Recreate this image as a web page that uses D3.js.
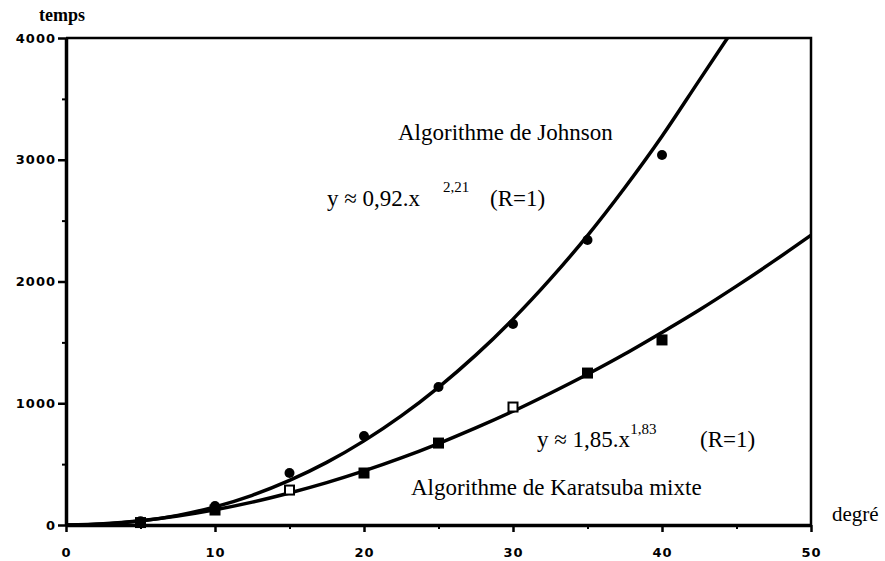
<!DOCTYPE html>
<html lang="fr">
  <head>
    <meta charset="UTF-8" />
    <title>Johnson vs Karatsuba</title>
    <script src="https://d3js.org/d3.v7.min.js"></script>
    <style>
      body {
        margin: 0;
        background: white;
      }
      svg {
        display: block;
      }
      .tick text {
        font-family: "DejaVu Sans", sans-serif;
        font-weight: bold;
        font-size: 13px;
        letter-spacing: 1px;
        fill: black;
      }
      .note {
        font-family: "Liberation Serif", "Times New Roman", serif;
        font-size: 23px;
        fill: black;
      }
    </style>
  </head>
  <body>
    <script>
      // measured points (degree, time)
      const degrees = [5, 10, 15, 20, 25, 30, 35, 40];
      const johnsonPts = [30, 156, 427, 731, 1133, 1651, 2341, 3039];
      const karatsubaPts = [20, 123, 287, 427, 673, 969, 1248, 1520];
      const karatsubaOpen = [false, false, true, false, false, true, false, false];

      // fitted curves
      const curveXJohnson = [0, 2.5, 5, 7.5, 10, 12.5, 15, 17.5, 20, 22.5, 25, 27.5, 30, 32.5, 35, 37.5, 40, 42.5, 44.4];
      const curveYJohnson = [0, 7, 32, 79, 149, 244, 366, 514, 691, 896, 1131, 1395, 1691, 2019, 2377, 2770, 3193, 3652, 4000];
      const curveXKaratsuba = [0, 2.5, 5, 7.5, 10, 12.5, 15, 17.5, 20, 22.5, 25, 27.5, 30, 32.5, 35, 37.5, 40, 42.5, 45, 47.5, 50];
      const curveYKaratsuba = [0, 10, 35, 74, 125, 188, 263, 348, 444, 551, 669, 797, 934, 1082, 1238, 1404, 1582, 1766, 1962, 2167, 2380];

      const xMajor = [0, 10, 20, 30, 40, 50];
      const xMinor = [5, 15, 25, 35, 45];
      const yMajor = [0, 1000, 2000, 3000, 4000];
      const yMinor = [500, 1500, 2500, 3500];

      const width = 885, height = 561;
      const svg = d3.select("body").append("svg")
        .attr("width", width)
        .attr("height", height);

      const x = d3.scaleLinear().domain([0, 50]).range([66, 811]);
      const y = d3.scaleLinear().domain([0, 4000]).range([525, 38]);

      // frame (top and right)
      svg.append("path")
        .attr("d", `M${x(0)},${y(4000)}H${x(50)}V${y(0)}`)
        .attr("fill", "none")
        .attr("stroke", "black")
        .attr("stroke-width", 2.5);

      // minor ticks
      svg.append("g")
        .attr("transform", `translate(0,${y(0)})`)
        .call(d3.axisBottom(x).tickValues(xMinor).tickSize(4).tickFormat(""))
        .call(g => g.select(".domain").remove())
        .call(g => g.selectAll("line").attr("stroke-width", 2));
      svg.append("g")
        .attr("transform", `translate(${x(0)},0)`)
        .call(d3.axisLeft(y).tickValues(yMinor).tickSize(4).tickFormat(""))
        .call(g => g.select(".domain").remove())
        .call(g => g.selectAll("line").attr("stroke-width", 2));

      // major axes
      const xAxis = svg.append("g")
        .attr("transform", `translate(0,${y(0)})`)
        .call(d3.axisBottom(x).tickValues(xMajor).tickFormat(d3.format("d"))
          .tickSizeInner(7).tickSizeOuter(0).tickPadding(16));
      xAxis.select(".domain").attr("stroke-width", 3.5);
      xAxis.selectAll("line").attr("stroke-width", 2.5);

      const yAxis = svg.append("g")
        .attr("transform", `translate(${x(0)},0)`)
        .call(d3.axisLeft(y).tickValues(yMajor).tickFormat(d3.format("d"))
          .tickSizeInner(8).tickSizeOuter(0).tickPadding(2));
      yAxis.select(".domain").attr("stroke-width", 3.5);
      yAxis.selectAll("line").attr("stroke-width", 2.5);

      // curves
      const line = d3.line().x(d => x(d[0])).y(d => y(d[1])).curve(d3.curveMonotoneX);
      svg.append("path")
        .datum(d3.zip(curveXJohnson, curveYJohnson))
        .attr("d", line)
        .attr("fill", "none")
        .attr("stroke", "black")
        .attr("stroke-width", 3.5);
      svg.append("path")
        .datum(d3.zip(curveXKaratsuba, curveYKaratsuba))
        .attr("d", line)
        .attr("fill", "none")
        .attr("stroke", "black")
        .attr("stroke-width", 3.5);

      // markers
      svg.selectAll("circle.j")
        .data(d3.zip(degrees, johnsonPts))
        .join("circle")
        .attr("class", "j")
        .attr("cx", d => x(d[0]))
        .attr("cy", d => y(d[1]))
        .attr("r", 5)
        .attr("fill", "black");

      svg.selectAll("rect.k")
        .data(d3.zip(degrees, karatsubaPts, karatsubaOpen))
        .join("rect")
        .attr("class", "k")
        .attr("x", d => x(d[0]) - 4.5)
        .attr("y", d => y(d[1]) - 4.5)
        .attr("width", 9)
        .attr("height", 9)
        .attr("fill", d => d[2] ? "white" : "black")
        .attr("stroke", "black")
        .attr("stroke-width", 2);

      // axis titles
      svg.append("text")
        .attr("class", "note")
        .attr("x", 39).attr("y", 21)
        .style("font-weight", "bold")
        .style("font-size", "18px")
        .text("temps");
      svg.append("text")
        .attr("class", "note")
        .attr("x", 832).attr("y", 521)
        .style("font-size", "21px")
        .text("degré");

      // annotations
      svg.append("text")
        .attr("class", "note")
        .attr("x", 398).attr("y", 140)
        .text("Algorithme de Johnson");

      const eq1 = svg.append("text").attr("class", "note").attr("x", 327).attr("y", 206);
      eq1.append("tspan").text("y ≈ 0,92.x");
      eq1.append("tspan").attr("x", 443).attr("dy", -14).style("font-size", "15px").text("2,21");
      eq1.append("tspan").attr("dy", 14).attr("x", 490).text("(R=1)");

      const eq2 = svg.append("text").attr("class", "note").attr("x", 537).attr("y", 447);
      eq2.append("tspan").text("y ≈ 1,85.x");
      eq2.append("tspan").attr("dy", -13).style("font-size", "15px").text("1,83");
      eq2.append("tspan").attr("dy", 13).attr("x", 700).text("(R=1)");

      svg.append("text")
        .attr("class", "note")
        .attr("x", 411).attr("y", 495)
        .text("Algorithme de Karatsuba mixte");
    </script>
  </body>
</html>
